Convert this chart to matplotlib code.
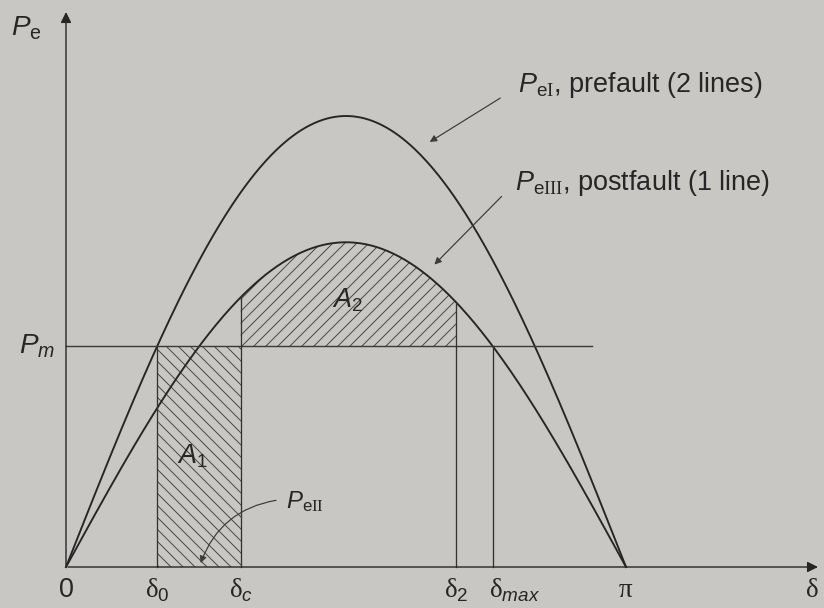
import numpy as np
import matplotlib.pyplot as plt

plt.rcParams['font.family'] = ['Liberation Sans', 'DejaVu Sans']
plt.rcParams['mathtext.fontset'] = 'custom'
plt.rcParams['mathtext.rm'] = 'Liberation Serif'
plt.rcParams['mathtext.it'] = 'Liberation Sans:italic'
plt.rcParams['mathtext.sf'] = 'Liberation Sans'
plt.rcParams['hatch.linewidth'] = 1.0

# per-unit power-angle data
p_max_pre = 1.0      # P_eI, prefault (2 lines)
p_max_post = 0.72    # P_eIII, postfault (1 line)
p_max_fault = 0.0    # P_eII, during fault
p_m = 0.49           # mechanical input
delta_c = 0.98       # clearing angle, rad
delta_2 = 2.19       # angle where A2 is closed off

delta_0 = np.arcsin(p_m / p_max_pre)
delta_max = np.pi - np.arcsin(p_m / p_max_post)

tick_pos = [0, delta_0, delta_c, delta_2, delta_max, np.pi]
tick_txt = ['0', r'$\mathrm{\delta}_{\mathsf{0}}$', r'$\mathrm{\delta}_c$',
            r'$\mathrm{\delta}_{\mathsf{2}}$', r'$\mathrm{\delta}_{max}$',
            r'$\mathrm{\pi}$']

BG = '#c9c7c3'
INK = '#262626'
W, H = 824, 608
DPI = 72


def fp(x, y):
    # figure pixels measured from the top-left corner
    return (x, H - y)


fig = plt.figure(figsize=(W / DPI, H / DPI), dpi=DPI, facecolor=BG)
ax = fig.add_axes([0, 0, 1, 1])
ax.set_facecolor(BG)
ax.axis('off')
# 0..pi spans 560 px, 1 pu spans 451 px, origin at (66, 567)
ax.set_xlim(-66 / 560 * np.pi, (W - 66) / 560 * np.pi)
ax.set_ylim(-(H - 567) / 451, 567 / 451)

d = np.linspace(0, np.pi, 400)
pe_pre = p_max_pre * np.sin(d)
pe_post = p_max_post * np.sin(d)

# A1: accelerating area, P_eII below P_m
d1 = np.linspace(delta_0, delta_c, 50)
ax.fill_between(d1, p_max_fault * np.sin(d1), p_m, facecolor='none',
                edgecolor='#4a4a4a', linewidth=0, hatch='\\\\')
# A2: decelerating area under P_eIII
d2 = np.linspace(delta_c, delta_2, 200)
ax.fill_between(d2, p_m, p_max_post * np.sin(d2), facecolor='none',
                edgecolor='#4a4a4a', linewidth=0, hatch='//')

ax.plot(d, pe_pre, color=INK, lw=1.9)
ax.plot(d, pe_post, color=INK, lw=1.9)
ax.plot([0, 2.95], [p_m, p_m], color='#3a3a3a', lw=1.4)

# vertical guide lines
ax.plot([delta_0, delta_0], [0, p_m], color='#333333', lw=1.3)
ax.plot([delta_c, delta_c], [0, p_max_post * np.sin(delta_c)], color='#333333', lw=1.3)
ax.plot([delta_2, delta_2], [0, p_max_post * np.sin(delta_2)], color='#333333', lw=1.3)
ax.plot([delta_max, delta_max], [0, p_m], color='#333333', lw=1.3)

# axes with arrow heads
ax.annotate('', xy=(0, 557 / 451), xytext=(0, 0),
            arrowprops=dict(arrowstyle='-|>', color=INK, lw=1.4, mutation_scale=22))
ax.annotate('', xy=(754 / 560 * np.pi, 0), xytext=(0, 0),
            arrowprops=dict(arrowstyle='-|>', color=INK, lw=1.4, mutation_scale=22))

# x tick labels
for i, (x, s) in enumerate(zip(tick_pos, tick_txt)):
    ha = 'left' if i == 4 else 'center'
    dx = -4 if i == 4 else 0
    ax.annotate(s, xy=(x, 0), xytext=(dx, -30), textcoords='offset points',
                ha=ha, va='baseline', fontsize=27, color=INK)
ax.annotate(r'$\mathrm{\delta}$', xy=fp(812, 597), xycoords='figure pixels',
            ha='center', va='baseline', fontsize=27, color=INK)

# axis names
ax.annotate(r'$P_{\mathsf{e}}$', xy=fp(11, 35), xycoords='figure pixels',
            ha='left', va='baseline', fontsize=28, color=INK)
ax.annotate(r'$P_m$', xy=fp(19, 353), xycoords='figure pixels',
            ha='left', va='baseline', fontsize=28, color=INK)

# area labels
ax.annotate(r'$A_{\mathsf{2}}$', xy=fp(332, 308), xycoords='figure pixels',
            ha='left', va='baseline', fontsize=27, color=INK)
ax.annotate(r'$A_{\mathsf{1}}$', xy=fp(177, 463), xycoords='figure pixels',
            ha='left', va='baseline', fontsize=27, color=INK)

# curve labels with pointers
ax.annotate(r'$P_{\mathsf{e}\mathrm{I}}$, prefault (2 lines)', xy=fp(518, 92),
            xycoords='figure pixels', ha='left', va='baseline', fontsize=27, color=INK)
ax.annotate('', xy=fp(428, 143), xycoords='figure pixels',
            xytext=fp(502, 97), textcoords='figure pixels',
            arrowprops=dict(arrowstyle='-|>', color='#3c3c3c', lw=1.2, mutation_scale=14))

ax.annotate(r'$P_{\mathsf{e}\mathrm{III}}$, postfault (1 line)', xy=fp(515, 190),
            xycoords='figure pixels', ha='left', va='baseline', fontsize=27, color=INK)
ax.annotate('', xy=fp(433, 266), xycoords='figure pixels',
            xytext=fp(503, 195), textcoords='figure pixels',
            arrowprops=dict(arrowstyle='-|>', color='#3c3c3c', lw=1.2, mutation_scale=14))

ax.annotate(r'$P_{\mathsf{e}\mathrm{II}}$', xy=fp(286, 508), xycoords='figure pixels',
            ha='left', va='baseline', fontsize=24, color=INK)
ax.annotate('', xy=fp(200, 565), xycoords='figure pixels',
            xytext=fp(278, 500), textcoords='figure pixels',
            arrowprops=dict(arrowstyle='-|>', color='#3c3c3c', lw=1.2, mutation_scale=14,
                            connectionstyle='arc3,rad=0.3'))

fig.savefig('out.png', dpi=DPI, facecolor=BG)
